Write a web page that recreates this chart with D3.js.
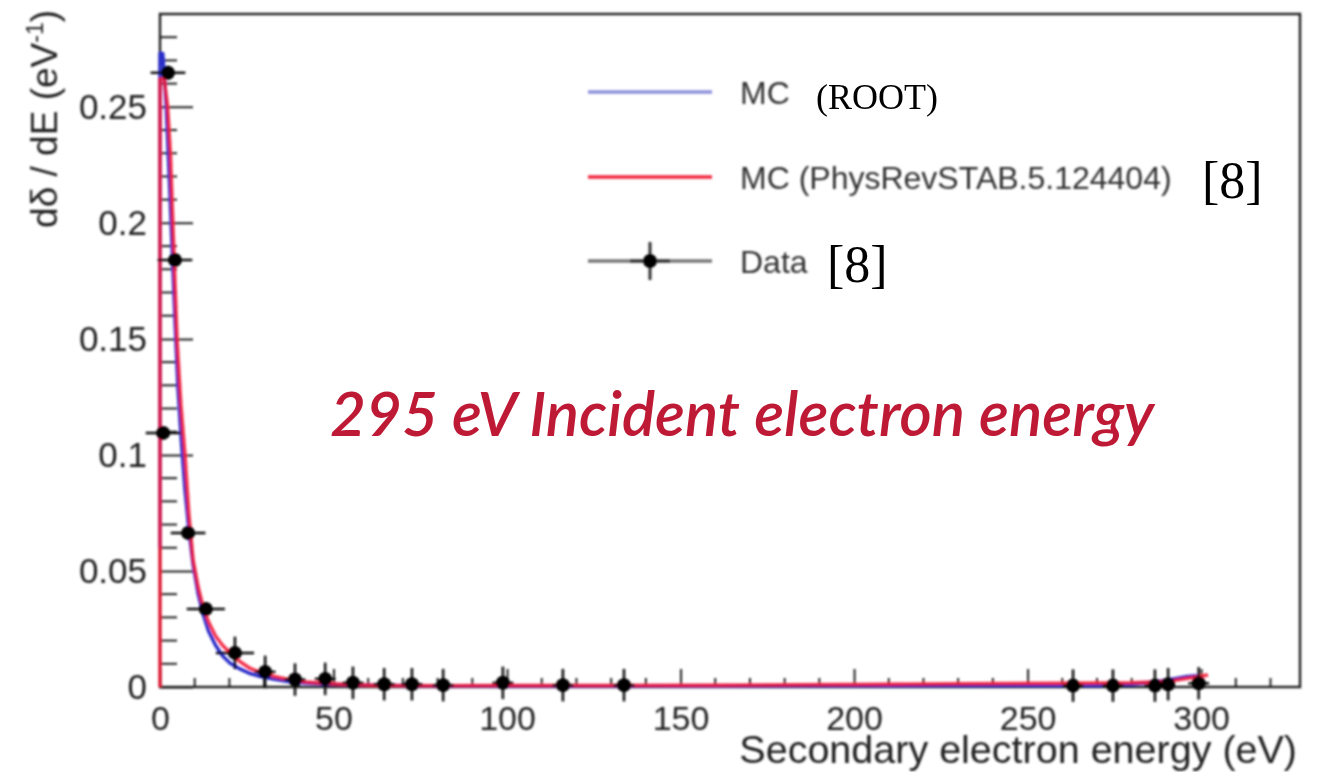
<!DOCTYPE html>
<html>
<head>
<meta charset="utf-8">
<script src="https://cdn.jsdelivr.net/npm/d3@7"></script>
<style>
  html, body { margin: 0; padding: 0; background: #fff; }
  svg { display: block; }
</style>
</head>
<body>
<svg id="chart" width="1326" height="772"></svg>
<script>
// Secondary electron energy spectrum, 295 eV primaries.

// Measured spectrum: energy (eV), dδ/dE (eV^-1), and error half-widths
const dataE    = [0.9, 2.3, 4.3, 8.1, 13.2, 21.6, 30.3, 38.9, 47.6, 55.6, 64.6, 72.6, 81.6, 98.8, 116.1, 133.7, 263.1, 274.6, 286.7, 290.5, 299.3];
const dataY    = [0.1095, 0.2647, 0.184, 0.0664, 0.0336, 0.0147, 0.0065, 0.0032, 0.0035, 0.0018, 0.0012, 0.0012, 0.0008, 0.0018, 0.0008, 0.0008, 0.0006, 0.0006, 0.0006, 0.0012, 0.0016];
const dataEerr = [5, 5, 5, 5, 5.5, 5.5, 3, 3, 3, 3, 3, 3, 3, 3, 3, 3, 3, 3, 3, 2, 3];
const dataYerr = [0.002, 0.003, 0.003, 0.003, 0.003, 0.007, 0.007, 0.007, 0.007, 0.007, 0.007, 0.007, 0.007, 0.007, 0.007, 0.007, 0.007, 0.007, 0.007, 0.007, 0.007];

// MC (ROOT) spectrum
const rootE = [0, 0, 0.8, 1.8, 2.8, 3.6, 4.4, 5.2, 6.2, 7.2, 8.3, 9.5, 11, 12.5, 14, 16, 18, 20, 23, 26, 29, 33, 37, 42, 48, 55, 65, 80, 100, 130, 160, 200, 240, 270, 280, 286, 292, 296, 299];
const rootY = [0.06, 0.273, 0.273, 0.25, 0.215, 0.185, 0.155, 0.128, 0.105, 0.085, 0.068, 0.053, 0.04, 0.031, 0.024, 0.018, 0.0135, 0.0105, 0.0078, 0.0058, 0.0045, 0.0033, 0.0024, 0.0017, 0.0012, 0.0009, 0.0006, 0.0004, 0.0004, 0.0004, 0.0004, 0.0005, 0.0006, 0.0008, 0.0012, 0.002, 0.0035, 0.0045, 0.0048];

// MC (PhysRevSTAB.5.124404) spectrum
const prstE = [0, 0, 1.2, 2.2, 3, 3.7, 4.3, 4.9, 6, 7.2, 8.3, 9.5, 11, 12.5, 14, 16, 18, 20, 23, 26, 29, 33, 37, 42, 48, 55, 65, 80, 100, 130, 160, 200, 230, 260, 280, 287, 293, 298, 302];
const prstY = [0, 0.262, 0.262, 0.25, 0.23, 0.2, 0.175, 0.15, 0.122, 0.1, 0.075, 0.055, 0.043, 0.034, 0.028, 0.022, 0.018, 0.015, 0.011, 0.008, 0.0062, 0.0045, 0.0032, 0.0022, 0.0015, 0.001, 0.0007, 0.0005, 0.0006, 0.0006, 0.0008, 0.0011, 0.0014, 0.0016, 0.0018, 0.0022, 0.003, 0.0042, 0.0052];

// Axis ticks
const xMajor = [0, 50, 100, 150, 200, 250, 300];
const yMajor = [0, 0.05, 0.1, 0.15, 0.2, 0.25];
const yTickLabels = ["0", "0.05", "0.1", "0.15", "0.2", "0.25"];

const legendLabels = ["MC", "MC (PhysRevSTAB.5.124404)", "Data"];

const svg = d3.select("#chart");
const frame = { left: 160, top: 14, right: 1300, bottom: 687 };

const x = d3.scaleLinear().domain([0, 328.5]).range([frame.left, frame.right]);
const y = d3.scaleLinear().domain([0, 0.29]).range([frame.bottom, frame.top]);

const defs = svg.append("defs");
defs.append("filter").attr("id", "soft")
  .attr("x", "-5%").attr("y", "-5%").attr("width", "110%").attr("height", "110%")
  .append("feGaussianBlur").attr("stdDeviation", 0.9);
defs.append("clipPath").attr("id", "plotClip")
  .append("rect").attr("x", frame.left - 30).attr("y", frame.top)
  .attr("width", frame.right - frame.left + 30).attr("height", frame.bottom - frame.top + 30);

const chart = svg.append("g").attr("filter", "url(#soft)");

const sans = "'Liberation Sans', Arial, Helvetica, sans-serif";
const serif = "'Liberation Serif', 'Times New Roman', serif";
const ink = "#222";

// Frame
chart.append("rect")
  .attr("x", frame.left).attr("y", frame.top)
  .attr("width", frame.right - frame.left).attr("height", frame.bottom - frame.top)
  .attr("fill", "none").attr("stroke", "#222").attr("stroke-width", 2.5);

// Inward ticks on the x axis
const xMinor = d3.range(0, 329, 10).filter(v => v % 50 !== 0);
const xAxis = d3.axisBottom(x).tickValues(xMajor).tickSizeInner(-18).tickSizeOuter(0).tickFormat(d3.format("d"));
const gx = chart.append("g").attr("transform", `translate(0,${frame.bottom})`).call(xAxis);
gx.select(".domain").remove();
gx.selectAll(".tick line").attr("stroke", "#222").attr("stroke-width", 2);
gx.selectAll(".tick text")
  .attr("font-family", sans).attr("font-size", 34).attr("fill", ink)
  .attr("y", 0).attr("dy", 43);
gx.selectAll(".minor").data(xMinor).enter().append("line")
  .attr("x1", d => x(d)).attr("x2", d => x(d))
  .attr("y1", 0).attr("y2", -9)
  .attr("stroke", "#222").attr("stroke-width", 2);

// Inward ticks on the y axis
const yMinor = d3.range(0, 29).map(i => i / 100).filter(v => Math.round(v * 100) % 5 !== 0);
const yAxis = d3.axisLeft(y).tickValues(yMajor).tickSizeInner(-33).tickSizeOuter(0)
  .tickFormat((d, i) => yTickLabels[i]);
const gy = chart.append("g").attr("transform", `translate(${frame.left},0)`).call(yAxis);
gy.select(".domain").remove();
gy.selectAll(".tick line").attr("stroke", "#222").attr("stroke-width", 2);
gy.selectAll(".tick text")
  .attr("font-family", sans).attr("font-size", 35).attr("fill", ink)
  .attr("x", -13);
gy.selectAll(".minor").data(yMinor).enter().append("line")
  .attr("x1", 0).attr("x2", 17)
  .attr("y1", d => y(d)).attr("y2", d => y(d))
  .attr("stroke", "#222").attr("stroke-width", 2);

// Axis titles
chart.append("text")
  .attr("x", 1297).attr("y", 763)
  .attr("text-anchor", "end")
  .attr("font-family", sans).attr("font-size", 39.5).attr("fill", ink)
  .text("Secondary electron energy (eV)");

const yTitle = chart.append("text")
  .attr("transform", "translate(57,10) rotate(-90)")
  .attr("text-anchor", "end")
  .attr("font-family", sans).attr("font-size", 37).attr("fill", ink);
yTitle.append("tspan").text("dδ / dE (eV");
yTitle.append("tspan").attr("font-size", 23).attr("dy", -14).text("-1");
yTitle.append("tspan").attr("dy", 14).text(")");

// Curves
const plot = chart.append("g").attr("clip-path", "url(#plotClip)");
const line = d3.line().x(d => x(d[0])).y(d => y(d[1]));

plot.append("path")
  .datum(d3.zip(rootE, rootY))
  .attr("d", line)
  .attr("fill", "none").attr("stroke", "#2b2fc8").attr("stroke-width", 3.5)
  .attr("stroke-linejoin", "round");

plot.append("path")
  .datum(d3.zip(prstE, prstY))
  .attr("d", line)
  .attr("fill", "none").attr("stroke", "#f21c38").attr("stroke-width", 3.5)
  .attr("stroke-linejoin", "round").attr("stroke-opacity", 0.9);

// Data with error bars
const pts = d3.range(dataE.length).map(i => ({
  e: dataE[i], v: dataY[i], de: dataEerr[i], dv: dataYerr[i]
}));
const gData = chart.append("g");
gData.selectAll(".xerr").data(pts).enter().append("line")
  .attr("x1", d => x(d.e - d.de)).attr("x2", d => x(d.e + d.de))
  .attr("y1", d => y(d.v)).attr("y2", d => y(d.v))
  .attr("stroke", "#111").attr("stroke-width", 2.5);
gData.selectAll(".yerr").data(pts).enter().append("line")
  .attr("x1", d => x(d.e)).attr("x2", d => x(d.e))
  .attr("y1", d => y(d.v - d.dv)).attr("y2", d => y(d.v + d.dv))
  .attr("stroke", "#111").attr("stroke-width", 2.5);
gData.selectAll("circle").data(pts).enter().append("circle")
  .attr("cx", d => x(d.e)).attr("cy", d => y(d.v)).attr("r", 7)
  .attr("fill", "#000");

// Legend
const legendX0 = 588, legendX1 = 712, legendText = 740;
const legendY = [92, 177, 261];
const lg = chart.append("g");
lg.append("line").attr("x1", legendX0).attr("x2", legendX1).attr("y1", legendY[0]).attr("y2", legendY[0])
  .attr("stroke", "#8d90dc").attr("stroke-width", 3.5);
lg.append("line").attr("x1", legendX0).attr("x2", legendX1).attr("y1", legendY[1]).attr("y2", legendY[1])
  .attr("stroke", "#f0283e").attr("stroke-width", 3.5);
lg.append("line").attr("x1", legendX0).attr("x2", legendX1).attr("y1", legendY[2]).attr("y2", legendY[2])
  .attr("stroke", "#777").attr("stroke-width", 3.5);
lg.append("line").attr("x1", 630).attr("x2", 670).attr("y1", legendY[2]).attr("y2", legendY[2])
  .attr("stroke", "#333").attr("stroke-width", 3);
lg.append("line").attr("x1", 650).attr("x2", 650).attr("y1", legendY[2] - 19).attr("y2", legendY[2] + 19)
  .attr("stroke", "#333").attr("stroke-width", 3);
lg.append("circle").attr("cx", 650).attr("cy", legendY[2]).attr("r", 7).attr("fill", "#000");
lg.selectAll(".lt").data(legendLabels).enter().append("text")
  .attr("x", legendText).attr("y", (d, i) => legendY[i])
  .attr("dy", "0.36em")
  .attr("font-family", sans).attr("font-size", 32).attr("fill", "#333")
  .text(d => d);

// Annotations
const notes = svg.append("g");
notes.append("text").attr("x", 816).attr("y", 109)
  .attr("font-family", serif).attr("font-size", 36).attr("fill", "#000")
  .text("(ROOT)");
notes.append("text").attr("x", 1202).attr("y", 198)
  .attr("font-family", serif).attr("font-size", 52).attr("fill", "#000")
  .text("[8]");
notes.append("text").attr("x", 827).attr("y", 282)
  .attr("font-family", serif).attr("font-size", 52).attr("fill", "#000")
  .text("[8]");
notes.append("text").attr("x", 330).attr("y", 436)
  .attr("font-family", "Lato, 'Open Sans', sans-serif").attr("font-style", "italic")
  .attr("font-weight", 600)
  .attr("font-size", 62).attr("fill", "#be1a35")
  .text("295 eV Incident electron energy");
</script>
</body>
</html>
